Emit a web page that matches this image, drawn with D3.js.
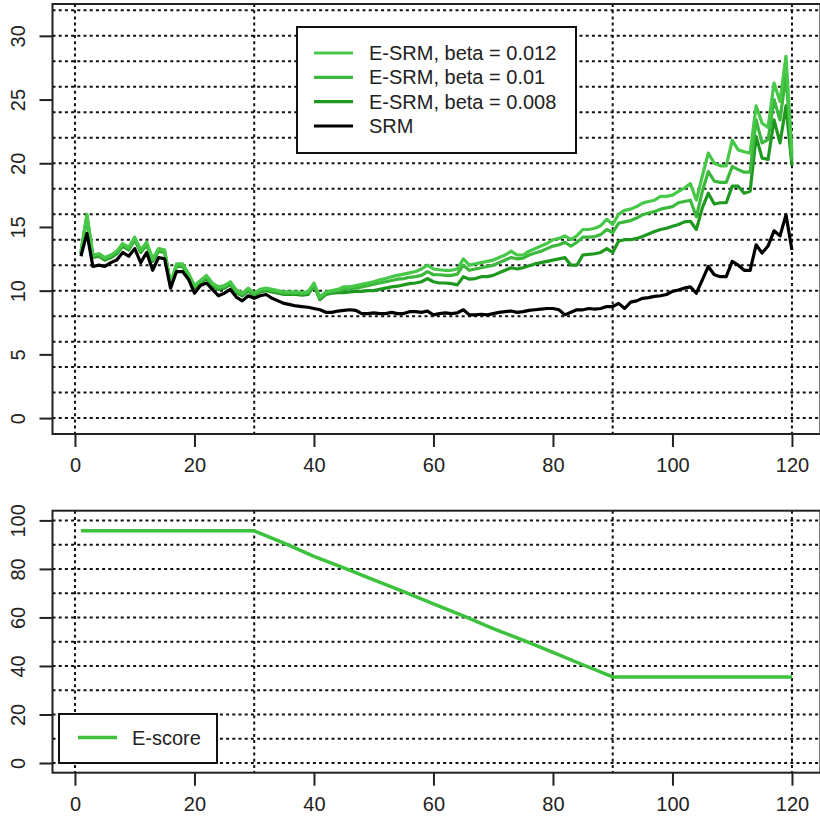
<!DOCTYPE html>
<html>
<head>
<meta charset="utf-8">
<script src="https://cdn.jsdelivr.net/npm/d3@7"></script>
<style>
  html, body { margin: 0; padding: 0; background: #fff; }
  svg { display: block; font-family: "Liberation Sans", Arial, sans-serif; }
</style>
</head>
<body>
<svg id="chart" width="820" height="824"></svg>
<script>
// ---------- data ----------
const months = d3.range(1, 121);

const srm = [12.7,14.5,11.9,12.0,11.9,12.2,12.4,13.0,12.7,13.3,
  12.2,13.0,11.6,12.6,12.5,10.2,11.5,11.5,10.9,9.8,
  10.4,10.6,10.1,9.6,9.8,10.1,9.5,9.2,9.6,9.4,
  9.6,9.7,9.4,9.2,9.0,8.9,8.8,8.75,8.7,8.6,
  8.5,8.3,8.3,8.4,8.45,8.5,8.45,8.2,8.2,8.25,
  8.2,8.2,8.3,8.2,8.2,8.35,8.35,8.3,8.4,8.1,
  8.2,8.25,8.2,8.25,8.5,8.1,8.1,8.15,8.1,8.2,
  8.3,8.35,8.4,8.3,8.35,8.45,8.5,8.55,8.6,8.6,
  8.5,8.1,8.3,8.5,8.5,8.6,8.55,8.6,8.75,8.75,
  9.0,8.6,9.1,9.2,9.4,9.45,9.55,9.6,9.7,9.94,
  10.05,10.2,10.3,9.8,10.85,11.9,11.25,11.1,11.1,12.3,
  12.0,11.6,11.6,13.6,12.95,13.5,14.7,14.3,15.95,13.2];

const esrm012 = [13.05,16.0,12.8,12.9,12.6,12.8,13.1,13.7,13.4,14.2,
  13.2,13.8,12.5,13.3,13.2,10.6,12.1,12.1,11.35,10.4,
  10.8,11.2,10.6,10.3,10.4,10.7,10.05,9.8,10.2,9.8,
  10.1,10.2,10.1,10.0,9.9,9.9,9.9,9.85,9.9,10.6,
  9.5,9.9,10.0,10.1,10.3,10.3,10.4,10.5,10.6,10.7,
  10.85,10.95,11.1,11.2,11.3,11.4,11.5,11.7,12.0,11.7,
  11.64,11.6,11.6,11.7,12.5,12.0,12.1,12.2,12.3,12.4,
  12.6,12.8,13.1,12.8,12.8,13.1,13.3,13.5,13.7,14.0,
  14.1,14.3,14.0,14.3,14.8,14.8,14.9,15.1,15.6,15.2,
  16.0,16.3,16.4,16.6,16.87,17.0,17.1,17.4,17.4,17.5,
  17.8,18.05,18.4,17.1,19.0,20.8,20.0,19.8,19.8,21.8,
  21.05,20.9,20.8,24.5,23.15,22.8,26.3,24.85,28.4,20.8];

const esrm010 = [12.95,15.9,12.7,12.8,12.5,12.7,13.0,13.6,13.3,14.1,
  13.1,13.7,12.4,13.2,13.1,10.5,12.0,12.0,11.25,10.3,
  10.7,11.1,10.5,10.2,10.3,10.6,9.95,9.7,10.1,9.7,
  10.0,10.1,10.0,9.9,9.8,9.8,9.8,9.75,9.8,10.5,
  9.4,9.8,9.9,10.0,10.1,10.15,10.2,10.3,10.4,10.5,
  10.6,10.7,10.8,10.9,10.95,11.05,11.1,11.2,11.5,11.25,
  11.25,11.2,11.2,11.3,12.0,11.6,11.7,11.8,11.9,12.0,
  12.2,12.4,12.6,12.5,12.55,12.8,12.95,13.1,13.3,13.5,
  13.6,13.8,13.5,13.8,14.2,14.2,14.25,14.4,14.8,14.55,
  15.3,15.4,15.5,15.7,15.96,16.1,16.2,16.4,16.5,16.6,
  16.9,17.0,17.1,15.8,17.8,19.35,18.6,18.5,18.5,19.75,
  19.5,19.3,19.3,23.4,21.6,21.85,25.0,23.4,26.95,20.2];

const esrm008 = [12.85,15.8,12.6,12.7,12.4,12.6,12.9,13.5,13.2,14.0,
  13.0,13.6,12.3,13.1,13.0,10.4,11.9,11.9,11.15,10.2,
  10.6,11.0,10.4,10.1,10.2,10.5,9.85,9.6,10.0,9.6,
  9.9,10.0,9.9,9.8,9.7,9.7,9.7,9.65,9.7,10.4,
  9.3,9.7,9.8,9.85,9.85,9.9,9.95,9.95,10.0,10.0,
  10.1,10.2,10.3,10.35,10.45,10.55,10.6,10.7,10.95,10.7,
  10.6,10.6,10.55,10.45,11.1,10.9,10.95,11.1,11.1,11.2,
  11.4,11.6,11.8,11.7,11.8,11.95,12.1,12.2,12.3,12.4,
  12.5,12.6,12.0,12.0,12.8,12.85,12.9,13.0,13.3,13.0,
  13.9,14.0,14.0,14.1,14.26,14.45,14.65,14.8,14.9,15.05,
  15.2,15.4,15.45,14.8,16.5,17.65,16.8,16.9,16.9,18.2,
  18.2,17.65,17.8,22.1,20.4,20.3,23.4,21.6,24.5,19.8];

// E-score as read at its visible vertices: [month, score]
const escoreMonths = [1, 30, 35, 40, 45, 50, 55, 60, 65, 70, 75, 80, 85, 90, 120];
const escoreValues = [95.7, 95.7, 90.6, 85.2, 80.4, 75.5, 70.6, 65.6, 60.6, 55.4, 50.6, 45.6, 40.5, 35.5, 35.5];

const xTicks = [0, 20, 40, 60, 80, 100, 120];
const xGrid = [0, 30, 90, 120];
const topYTicks = [0, 5, 10, 15, 20, 25, 30];
const topYGrid = d3.range(0, 33, 2);
const botYTicks = [0, 20, 40, 60, 80, 100];
const botYGrid = d3.range(0, 101, 10);

const seriesNames = ["E-SRM, beta = 0.012", "E-SRM, beta = 0.01", "E-SRM, beta = 0.008", "SRM"];
const seriesColors = ["#48c848", "#3cb83c", "#1f981f", "#000000"];
const escoreName = "E-score";
const escoreColor = "#3cc23c";

// ---------- layout ----------
const svg = d3.select("#chart");
const fontSize = 20;
const textColor = "#222";

const x = d3.scaleLinear().domain([-3.76, 124.76]).range([52.5, 820.4]);
const yTop = d3.scaleLinear().domain([-1.25, 32.5]).range([434, 4]);
const yBot = d3.scaleLinear().domain([-4, 104]).range([772.7, 510.7]);

function panel(y, yTicks, yGrid, clipId) {
  const g = svg.append("g");
  const [yb, yt] = y.range();
  const [xl, xr] = x.range();

  g.append("clipPath").attr("id", clipId).append("rect")
    .attr("x", xl).attr("y", yt).attr("width", xr - xl).attr("height", yb - yt);

  const grid = g.append("g").attr("stroke", "#111").attr("stroke-width", 2)
    .attr("stroke-dasharray", "3,3.2");
  grid.selectAll(".h").data(yGrid).join("line")
    .attr("x1", xl).attr("x2", xr)
    .attr("y1", d => y(d)).attr("y2", d => y(d));
  grid.selectAll(".v").data(xGrid).join("line")
    .attr("x1", d => x(d)).attr("x2", d => x(d))
    .attr("y1", yt).attr("y2", yb);

  const xa = g.append("g").attr("transform", `translate(0,${yb})`)
    .call(d3.axisBottom(x).tickValues(xTicks).tickSize(13).tickPadding(11).tickFormat(d3.format("d")));
  xa.select(".domain").remove();
  xa.selectAll("line").attr("stroke", "#222").attr("stroke-width", 2);
  xa.selectAll("text").attr("font-size", fontSize).attr("fill", textColor)
    .attr("font-family", "Liberation Sans, Arial, sans-serif");

  const ya = g.append("g").attr("transform", `translate(${xl},0)`)
    .call(d3.axisLeft(y).tickValues(yTicks).tickSize(13).tickFormat(d3.format("d")));
  ya.select(".domain").remove();
  ya.selectAll("line").attr("stroke", "#222").attr("stroke-width", 2);
  ya.selectAll("text")
    .attr("font-size", fontSize).attr("fill", textColor)
    .attr("font-family", "Liberation Sans, Arial, sans-serif")
    .attr("x", null).attr("dy", null)
    .attr("text-anchor", "middle")
    .attr("dominant-baseline", "central")
    .attr("transform", `translate(${17.5 - xl},0) rotate(-90)`);

  return { g, yb, yt, xl, xr };
}

// ---------- top panel ----------
const topP = panel(yTop, topYTicks, topYGrid, "clipTop");
const topSeries = [esrm012, esrm010, esrm008, srm];
const lineTop = d3.line().x((d, i) => x(months[i])).y(d => yTop(d));
const lg = topP.g.append("g").attr("clip-path", "url(#clipTop)");
[2, 1, 0, 3].forEach(k => {
  lg.append("path").datum(topSeries[k])
    .attr("fill", "none").attr("stroke", seriesColors[k])
    .attr("stroke-width", 3.2).attr("stroke-linejoin", "round")
    .attr("d", lineTop);
});
topP.g.append("rect").attr("x", topP.xl).attr("y", topP.yt)
  .attr("width", topP.xr - topP.xl).attr("height", topP.yb - topP.yt)
  .attr("fill", "none").attr("stroke", "#222").attr("stroke-width", 2);

const leg = topP.g.append("g");
leg.append("rect").attr("x", 297).attr("y", 27).attr("width", 279).attr("height", 126)
  .attr("fill", "#fff").attr("stroke", "#111").attr("stroke-width", 2);
const legRowY = d3.scalePoint().domain(seriesNames).range([53, 126]);
seriesNames.forEach((name, k) => {
  const yy = legRowY(name);
  leg.append("line").attr("x1", 314).attr("x2", 353).attr("y1", yy).attr("y2", yy)
    .attr("stroke", seriesColors[k]).attr("stroke-width", 3.2);
  leg.append("text").attr("x", 369).attr("y", yy).attr("dominant-baseline", "central")
    .attr("font-size", fontSize).attr("fill", textColor).text(name);
});

// ---------- bottom panel ----------
const botP = panel(yBot, botYTicks, botYGrid, "clipBot");
const lineBot = d3.line().x((d, i) => x(escoreMonths[i])).y(d => yBot(d));
botP.g.append("path").datum(escoreValues)
  .attr("fill", "none").attr("stroke", escoreColor).attr("stroke-width", 3.5)
  .attr("stroke-linejoin", "round").attr("clip-path", "url(#clipBot)")
  .attr("d", lineBot);
botP.g.append("rect").attr("x", botP.xl).attr("y", botP.yt)
  .attr("width", botP.xr - botP.xl).attr("height", botP.yb - botP.yt)
  .attr("fill", "none").attr("stroke", "#222").attr("stroke-width", 2);

const leg2 = botP.g.append("g");
leg2.append("rect").attr("x", 59).attr("y", 714).attr("width", 158).attr("height", 49)
  .attr("fill", "#fff").attr("stroke", "#111").attr("stroke-width", 2);
leg2.append("line").attr("x1", 78).attr("x2", 117).attr("y1", 737.5).attr("y2", 737.5)
  .attr("stroke", escoreColor).attr("stroke-width", 3.5);
leg2.append("text").attr("x", 132).attr("y", 738).attr("dominant-baseline", "central")
  .attr("font-size", fontSize).attr("fill", textColor).text(escoreName);
</script>
</body>
</html>
